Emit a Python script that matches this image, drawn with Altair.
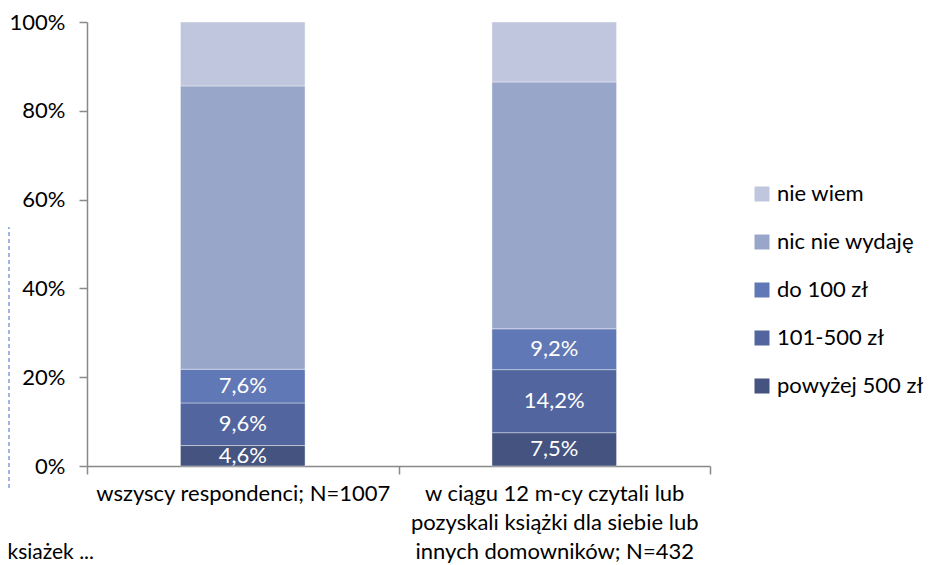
import json
import altair as alt
import pandas as pd

categories = [
    "wszyscy respondenci; N=1007",
    "w ciągu 12 m-cy czytali lub pozyskali książki dla siebie lub innych domowników; N=432",
]
category_lines = [
    ["wszyscy respondenci; N=1007"],
    ["w ciągu 12 m-cy czytali lub", "pozyskali książki dla siebie lub", "innych domowników; N=432"],
]
series = ["nie wiem", "nic nie wydaję", "do 100 zł", "101-500 zł", "powyżej 500 zł"]
colors = ["#C0C6DD", "#98A6CA", "#6178B6", "#52659E", "#44537F"]

powyzej_500 = [4.6, 7.5]
od_101_do_500 = [9.6, 14.2]
do_100 = [7.6, 9.2]
nic_nie_wydaje = [63.8, 55.6]
nie_wiem = [14.4, 13.5]

labeled_series = ["powyżej 500 zł", "101-500 zł", "do 100 zł"]
y_ticks = [0, 20, 40, 60, 80, 100]
note_text = "ksiażek ..."

series_values = {
    "powyżej 500 zł": powyzej_500,
    "101-500 zł": od_101_do_500,
    "do 100 zł": do_100,
    "nic nie wydaję": nic_nie_wydaje,
    "nie wiem": nie_wiem,
}
stack_order = ["powyżej 500 zł", "101-500 zł", "do 100 zł", "nic nie wydaję", "nie wiem"]

rows = []
for s in stack_order:
    for i, c in enumerate(categories):
        v = series_values[s][i]
        rows.append({
            "category": c,
            "series": s,
            "value": v,
            "order": stack_order.index(s),
            "label": (f"{v:.1f}".replace(".", ",") + "%") if s in labeled_series else "",
        })
df = pd.DataFrame(rows)

FONT = "Lato"
label_expr = " : ".join(
    f"datum.label == {json.dumps(c)} ? {json.dumps(l)}" for c, l in zip(categories, category_lines)
) + " : datum.label"

x_enc = alt.X(
    "category:N",
    sort=categories,
    scale=alt.Scale(paddingInner=0, paddingOuter=0),
    axis=alt.Axis(
        title=None, labelAngle=0, labelExpr=label_expr, labelFont=FONT, labelFontSize=22,
        labelColor="#000000", labelLineHeight=29, labelPadding=9, tickBand="extent",
        tickSize=8, tickColor="#898989", tickWidth=1.5, domainColor="#898989", domainWidth=1.5,
        labelLimit=400,
    ),
)
y_scale = alt.Scale(domain=[0, 100], nice=False)
y_axis = alt.Axis(
    title=None, values=y_ticks, labelExpr="datum.value + '%'", labelFont=FONT, labelFontSize=22,
    labelColor="#000000", labelPadding=14, tickSize=8, tickColor="#898989", tickWidth=1.5,
    domainColor="#898989", domainWidth=1.5, grid=False,
)

base = alt.Chart(df)
bars = base.mark_bar(
    width=alt.RelativeBandSize(band=0.4), stroke="white", strokeWidth=0.8, strokeOpacity=0.5
).encode(
    x=x_enc,
    y=alt.Y("value:Q", stack="zero", scale=y_scale, axis=y_axis),
    color=alt.Color(
        "series:N",
        scale=alt.Scale(domain=series, range=colors),
        legend=alt.Legend(
            title=None, orient="none", legendX=664, legendY=161, symbolType="square",
            symbolSize=225, symbolStrokeWidth=0, labelFont=FONT, labelFontSize=22,
            labelColor="#000000", rowPadding=26, labelOffset=4, labelLimit=300,
        ),
    ),
    order=alt.Order("order:Q", sort="ascending"),
)

texts = base.transform_stack(
    stack="value", groupby=["category"], as_=["y0", "y1"],
    sort=[alt.SortField("order", order="ascending")],
).transform_calculate(
    mid="(datum.y0 + datum.y1) / 2"
).transform_filter(
    "datum.label != ''"
).mark_text(color="white", font=FONT, fontSize=22).encode(
    x=alt.X("category:N", sort=categories),
    y=alt.Y("mid:Q", scale=y_scale),
    text="label:N",
)

note = alt.Chart(pd.DataFrame({"t": [note_text]})).mark_text(
    align="right", baseline="middle", font=FONT, fontSize=21, color="#000000"
).encode(x=alt.value(7), y=alt.value(531), text="t:N")

box = alt.Chart(pd.DataFrame({"t": [0]})).mark_rect(
    filled=False, stroke="#7F9FD6", strokeWidth=1.5, strokeDash=[4, 3]
).encode(x=alt.value(-200), x2=alt.value(-78), y=alt.value(206), y2=alt.value(468))

chart = alt.layer(bars, texts, note, box).properties(
    width=623, height=444,
    autosize=alt.AutoSizeParams(type="none"),
    padding={"left": 79, "top": 14, "right": 218, "bottom": 99},
).configure_view(stroke=None)

chart.save("out.html", embed_options={"renderer": "svg", "actions": False})
